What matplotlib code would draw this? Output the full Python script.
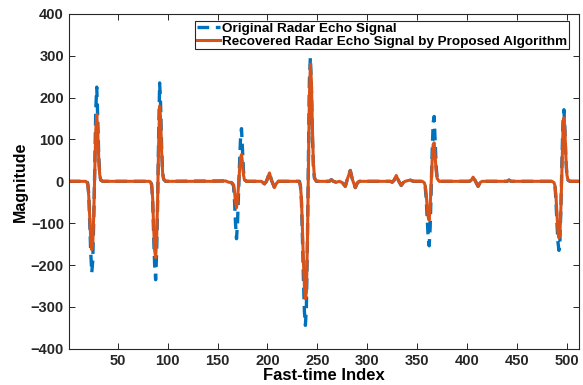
import numpy as np
import matplotlib
matplotlib.use('Agg')
import matplotlib.pyplot as plt

plt.rcParams['font.family'] = ['Liberation Sans', 'DejaVu Sans']
plt.rcParams['font.weight'] = 'bold'

# original radar echo signal (blue dashed)
orig_x = [1, 19, 20, 21, 22, 23, 24, 25, 26, 27, 28, 29, 30, 31, 32, 33, 35,
          83, 84, 85, 86, 87, 88, 89, 90, 91, 92, 93, 94, 95, 96, 98,
          158, 161, 164, 166, 167, 168, 169, 170, 171, 172, 173, 174, 175, 176, 177, 179,
          194, 197, 199, 202, 204, 207, 209, 211,
          232, 233, 234, 235, 236, 237, 238, 239, 240, 241, 242, 243, 244, 245, 246, 247, 249,
          262, 264, 266, 269, 272, 275, 278, 280, 283, 285, 288, 290, 292,
          323, 325, 327, 329, 331, 334, 336, 338, 341, 343, 345, 347,
          356, 358, 359, 360, 361, 362, 363, 364, 365, 366, 367, 368, 369, 370, 372,
          402, 404, 406, 408, 411, 413, 415, 440, 442, 444,
          486, 488, 489, 490, 491, 492, 493, 494, 495, 496, 497, 498, 499, 500, 501, 503, 512]
orig_y = [0, 0, -5, -30, -100, -170, -218, -190, -90, 30, 170, 225, 150, 60, 15, 3, 0,
          0, -8, -45, -130, -200, -235, -170, -50, 110, 235, 180, 80, 20, 5, 0,
          1, -2, -3, -10, -45, -100, -137, -100, -30, 40, 100, 126, 75, 25, 5, 0,
          0, -6, 0, 20, 3, -15, -5, 0,
          0, -10, -45, -130, -230, -310, -344, -300, -150, 50, 240, 296, 230, 110, 35, 8, 0,
          0, 4, 0, -2, 0, -3, -12, 5, 26, 5, -15, -4, 0,
          0, -2, 3, 14, 3, -10, -3, 0, 2, 3, 1, 0,
          0, -12, -40, -90, -135, -154, -110, -20, 70, 140, 155, 95, 35, 8, 0,
          0, 2, 10, 2, -12, -3, 0, 0, 3, 0,
          0, -10, -45, -100, -145, -165, -140, -60, 50, 140, 171, 120, 50, 12, 3, 0, 0]

# recovered signal (orange solid)
rec_x = [1, 18, 19, 20, 21, 22, 23, 24, 25, 26, 27, 28, 29, 30, 31, 32, 33, 35,
         82, 83, 84, 85, 86, 87, 88, 89, 90, 91, 92, 93, 94, 95, 96, 98,
         150, 158, 161, 164, 166, 167, 168, 169, 170, 171, 172, 173, 174, 175, 176, 177, 179,
         194, 197, 199, 202, 204, 207, 209, 211,
         231, 232, 233, 234, 235, 236, 237, 238, 239, 240, 241, 242, 243, 244, 245, 246, 247, 248, 250,
         262, 264, 266, 269, 272, 275, 278, 280, 283, 285, 288, 290, 292,
         323, 325, 327, 329, 331, 334, 336, 338, 341, 343, 345, 347,
         355, 357, 358, 359, 360, 361, 362, 363, 364, 365, 366, 367, 368, 369, 370, 372,
         402, 404, 406, 408, 411, 413, 415, 440, 442, 444,
         485, 487, 488, 489, 490, 491, 492, 493, 494, 495, 496, 497, 498, 499, 500, 501, 503, 512]
rec_y = [0, 0, -2, -8, -35, -90, -140, -163, -150, -80, 20, 120, 160, 120, 55, 15, 4, 0,
         0, -2, -10, -40, -110, -165, -182, -140, -40, 90, 180, 150, 70, 20, 5, 0,
         0, 1, -2, -3, -8, -25, -50, -63, -45, -10, 25, 55, 64, 45, 15, 3, 0,
         0, -6, 0, 20, 3, -15, -5, 0,
         0, -3, -10, -40, -110, -190, -250, -280, -265, -150, 20, 200, 280, 240, 130, 45, 12, 3, 0,
         0, 4, 0, -2, 0, -3, -12, 5, 26, 5, -15, -4, 0,
         0, -2, 3, 14, 3, -10, -3, 0, 2, 3, 1, 0,
         0, -3, -10, -30, -60, -85, -93, -60, -5, 50, 88, 92, 60, 25, 7, 0,
         0, 2, 10, 2, -12, -3, 0, 0, 3, 0,
         0, -3, -10, -35, -80, -120, -135, -125, -60, 30, 120, 152, 120, 55, 15, 4, 0, 0]

fig = plt.figure(figsize=(5.83, 3.85), dpi=100)
ax = fig.add_axes([0.118, 0.094, 0.875, 0.870])

ax.plot(orig_x, orig_y, '--', color='#0072BD', lw=2.4, dashes=(3.5, 2),
        label='Original Radar Echo Signal')
ax.plot(rec_x, rec_y, '-', color='#D95319', lw=2.2,
        label='Recovered Radar Echo Signal by Proposed Algorithm')

ax.set_xlim(1, 512)
ax.set_ylim(-400, 400)
ax.set_xticks(np.arange(50, 501, 50))
ax.set_yticks(np.arange(-400, 401, 100))
ax.tick_params(direction='in', top=True, right=True, labelsize=10.5,
               colors='#262626', length=4, width=0.7)
for s in ax.spines.values():
    s.set_color('#262626')
    s.set_linewidth(0.8)
ax.set_xlabel('Fast-time Index', fontsize=12, fontweight='bold', labelpad=0)
ax.set_ylabel('Magnitude', fontsize=11.5, fontweight='bold', labelpad=2)

leg = ax.legend(loc='upper right', bbox_to_anchor=(0.98, 0.979), fontsize=9.7,
                frameon=True, fancybox=False, framealpha=1, edgecolor='#262626',
                borderpad=0.1, labelspacing=0.05, handletextpad=0.2,
                handlelength=1.7, borderaxespad=0)
leg.get_frame().set_linewidth(0.8)

fig.savefig('out.png', dpi=100)
